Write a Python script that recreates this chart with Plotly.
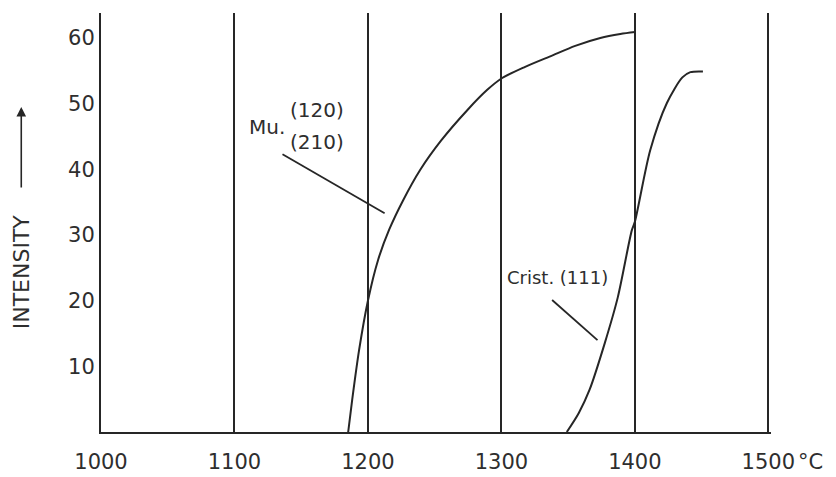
import plotly.graph_objects as go

# ---- data ----
mu_temp = [1185.2, 1188.2, 1193.4, 1200.1, 1207.6, 1215.9, 1226.4, 1239.1, 1254.9,
           1274.4, 1289.4, 1300.6, 1317.8, 1336.6, 1355.3, 1374.1, 1389.1, 1400.3]
mu_int = [0, 4.9, 12.5, 20.1, 26.2, 30.8, 35.3, 39.9, 44.4,
          49.0, 52.1, 53.9, 55.6, 57.2, 58.8, 60.0, 60.6, 60.9]

crist_temp = [1349, 1358, 1366, 1377.4, 1387.2, 1397.7, 1400, 1411.5, 1424, 1435.6, 1441.6, 1451]
crist_int = [0, 2.9, 6.4, 13.5, 20.5, 30.7, 32, 42.9, 50.1, 54, 54.8, 54.9]

x_ticks = [1000, 1100, 1200, 1300, 1400, 1500]
x_ticktext = ["1000", "1100", "1200", "1300", "1400", "1500"]
y_ticks = [10, 20, 30, 40, 50, 60]
y_ticktext = ["10", "20", "30", "40", "50", "60"]

# leader lines for labels (temperature, intensity)
mu_leader_t = [1136, 1212.5]
mu_leader_i = [42.3, 33.3]
crist_leader_t = [1338, 1372]
crist_leader_i = [20.1, 14.0]

INK = "#262626"
TXT = "#2e2e2e"
FONT = "DejaVu Sans"

fig = go.Figure()
fig.add_trace(go.Scatter(x=mu_temp, y=mu_int, mode="lines",
                         line=dict(color=INK, width=2, shape="spline", smoothing=0.8),
                         hoverinfo="skip", showlegend=False))
fig.add_trace(go.Scatter(x=crist_temp, y=crist_int, mode="lines",
                         line=dict(color=INK, width=2, shape="spline", smoothing=0.8),
                         hoverinfo="skip", showlegend=False))
fig.add_trace(go.Scatter(x=mu_leader_t, y=mu_leader_i, mode="lines",
                         line=dict(color=INK, width=1.8), hoverinfo="skip", showlegend=False))
fig.add_trace(go.Scatter(x=crist_leader_t, y=crist_leader_i, mode="lines",
                         line=dict(color=INK, width=1.8), hoverinfo="skip", showlegend=False))

annos = [
    dict(x=1124, y=46.4, text="Mu.", size=20),
    dict(x=1162, y=49.0, text="(120)", size=20),
    dict(x=1162, y=44.1, text="(210)", size=20),
    dict(x=1342, y=23.6, text="Crist. (111)", size=18),
]
for a in annos:
    fig.add_annotation(xref="x", yref="y", showarrow=False,
                       xanchor="center", yanchor="middle",
                       font=dict(family=FONT, color=TXT, size=a["size"]),
                       x=a["x"], y=a["y"], text=a["text"])

# °C after 1500
fig.add_annotation(xref="x", yref="paper", x=1500, y=0, xanchor="left", yanchor="middle",
                   xshift=28, yshift=-30, showarrow=False, text="°C",
                   font=dict(family=FONT, color=TXT, size=21))

# y-axis title with arrow
fig.add_annotation(xref="paper", yref="paper", x=-0.119, y=(432 - 272) / 419,
                   xanchor="center", yanchor="middle", textangle=-90, showarrow=False,
                   text="INTENSITY", font=dict(family=FONT, color=TXT, size=22))
fig.add_annotation(xref="paper", yref="paper", x=-0.119, y=(432 - 107) / 419,
                   ax=0, ay=82, text="", showarrow=True, arrowhead=2, arrowsize=1.2,
                   arrowwidth=1.6, arrowcolor=INK, standoff=0, startstandoff=0)

fig.update_layout(
    width=836, height=477,
    margin=dict(l=101, r=65, t=13, b=45, autoexpand=False),
    paper_bgcolor="white", plot_bgcolor="white",
    font=dict(family=FONT, color=TXT, size=21),
    xaxis=dict(range=[1000, 1502], tickvals=x_ticks, ticktext=x_ticktext,
               showgrid=True, gridcolor=INK, gridwidth=2,
               showline=True, linecolor=INK, linewidth=2,
               zeroline=False, ticks="", ticklabelstandoff=10,
               tickfont=dict(family=FONT, color=TXT, size=21), fixedrange=True),
    yaxis=dict(range=[0, 63.8], tickvals=y_ticks, ticktext=y_ticktext,
               showgrid=False, showline=True, linecolor=INK, linewidth=2,
               zeroline=False, ticks="", ticklabelstandoff=0,
               tickfont=dict(family=FONT, color=TXT, size=21), fixedrange=True),
)

fig.write_html("out.html", config={"displayModeBar": False},
               post_script="document.body.style.margin='0';")
